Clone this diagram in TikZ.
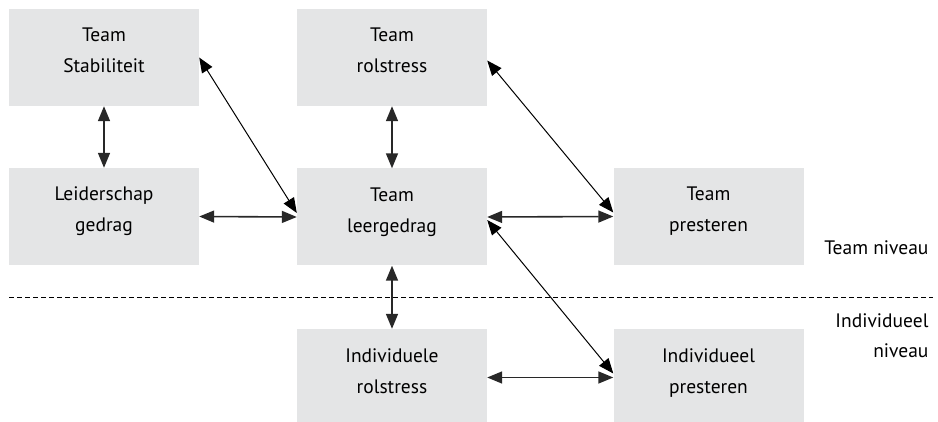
\documentclass[tikz,border=0pt]{standalone}
\usepackage{fontspec}
\setmainfont{PT Sans}
\usetikzlibrary{arrows.meta}
\definecolor{blokgrijs}{RGB}{228,229,230}
\definecolor{pijlgrijs}{RGB}{40,40,40}

\begin{document}
\begin{tikzpicture}[x=1pt,y=-1pt,every node/.style={font=\fontsize{19.5}{31}\selectfont},
	blok/.style={fill=blokgrijs,minimum width=190pt,minimum height=97pt,align=center,inner sep=0pt,text height=40pt,text depth=9pt},
	pijl/.style={{Triangle[length=15pt,width=12pt]}-{Triangle[length=15pt,width=12pt]},line width=1.6pt,draw=pijlgrijs},
	schuin/.style={pijl,line width=1pt,draw=black}]
	\useasboundingbox (0,0) rectangle (938,422);

	% team niveau
	\node[blok] (stab) at (104,57.5) {Team\\Stabiliteit};
	\node[blok] (leider) at (104,216.5) {Leiderschap\\gedrag};
	\node[blok] (rolT) at (392,57.5) {Team\\rolstress};
	\node[blok] (leer) at (392,217) {Team\\leergedrag};
	\node[blok] (presT) at (708.5,216.5) {Team\\presteren};

	% individueel niveau
	\node[blok] (rolI) at (392,377.5) {Individuele\\rolstress};
	\node[blok] (presI) at (708.5,377.5) {Individueel\\presteren};

	\node[anchor=base east] (teamniv) at (932,255) {Team niveau};
	\node[anchor=base east,align=right] (indniv) at (932,358) {Individueel\\niveau};

	\coordinate (scheidL) at (9,297);
	\coordinate (scheidR) at (933,297);
	\draw[line width=0.8pt,dash pattern=on 5pt off 3pt] (scheidL) -- (scheidR);

	\draw[pijl] (stab.south) -- (leider.north);
	\draw[pijl] (leider.east) -- (leer.west);
	\draw[schuin] (stab.east) -- ([yshift=4pt]leer.west);
	\draw[pijl] (rolT.south) -- (leer.north);
	\draw[schuin] ([yshift=-3pt]rolT.east) -- ([yshift=4pt]presT.west);
	\draw[pijl] (leer.east) -- (presT.west);
	\draw[pijl] (leer.south) -- (rolI.north);
	\draw[schuin] ([yshift=-3pt]leer.east) -- ([yshift=4pt]presI.west);
	\draw[pijl] (rolI.east) -- (presI.west);
\end{tikzpicture}
\end{document}
